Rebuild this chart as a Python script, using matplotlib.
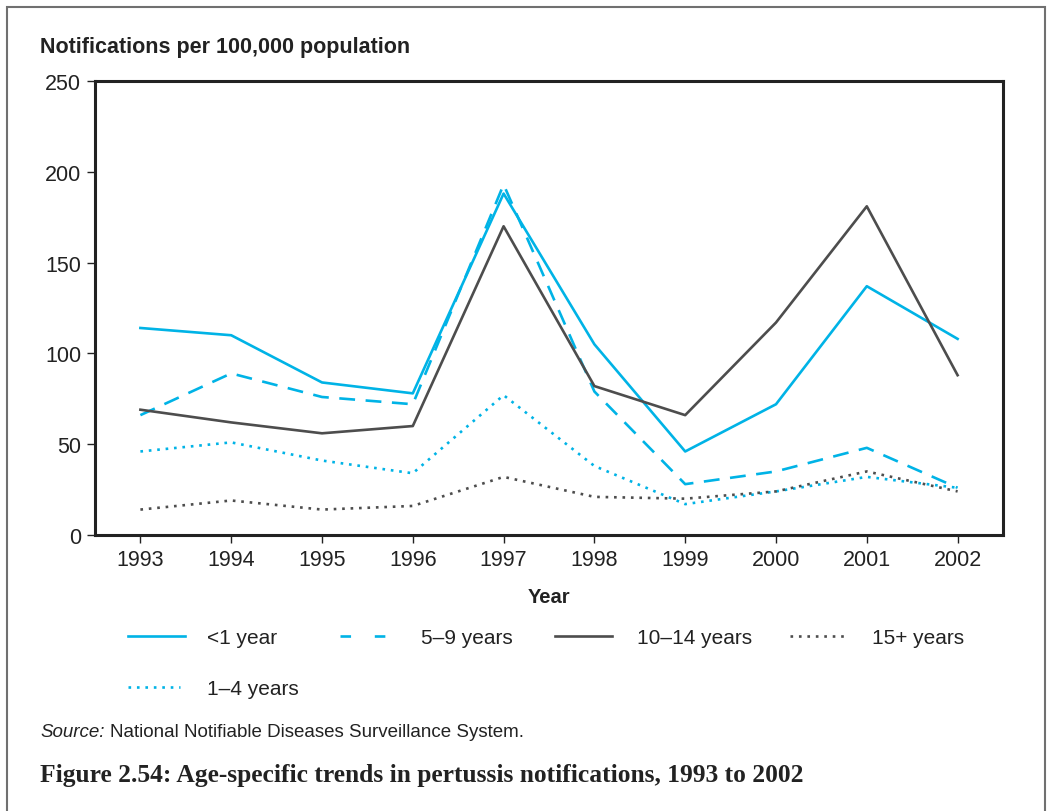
import matplotlib
matplotlib.use('Agg')
import matplotlib.pyplot as plt
from matplotlib.patches import Rectangle
from matplotlib.lines import Line2D

years = [1993, 1994, 1995, 1996, 1997, 1998, 1999, 2000, 2001, 2002]
under_1 = [114, 110, 84, 78, 188, 105, 46, 72, 137, 108]
age_1_4 = [46, 51, 41, 34, 77, 38, 17, 24, 32, 26]
age_5_9 = [66, 89, 76, 72, 193, 79, 28, 35, 48, 26]
age_10_14 = [69, 62, 56, 60, 170, 82, 66, 117, 181, 88]
age_15_plus = [14, 19, 14, 16, 32, 21, 20, 24, 35, 24]

cyan = '#00b3e6'
grey = '#4d4d4d'
ink = '#222222'
dot = (0, (1, 2.2))
dash = (0, (6, 4))
plt.rcParams['font.family'] = ['Liberation Sans', 'DejaVu Sans']

fig = plt.figure(figsize=(10.47, 8.12), dpi=100)
W, H = 1047, 812
ax = fig.add_axes([95 / W, 1 - 536 / H, (1003 - 95) / W, (536 - 82) / H])

series = [
    ('<1 year', under_1, cyan, '-'),
    ('1\u20134 years', age_1_4, cyan, dot),
    ('5\u20139 years', age_5_9, cyan, dash),
    ('10\u201314 years', age_10_14, grey, '-'),
    ('15+ years', age_15_plus, grey, dot),
]
for name, vals, col, ls in series:
    ax.plot(years, vals, color=col, lw=1.9, ls=ls, label=name)

ax.set_xlim(1992.5, 2002.5)
ax.set_ylim(0, 250)
ax.set_xticks(years)
ax.set_yticks([0, 50, 100, 150, 200, 250])
ax.tick_params(labelsize=15.5, length=6, width=1, color=ink, labelcolor=ink, pad=4)
for s in ax.spines.values():
    s.set_linewidth(2.2)
    s.set_color(ink)

ax.set_xlabel('Year', fontsize=14.5, fontweight='bold', color=ink, labelpad=12)
fig.text(40 / W, 1 - 48 / H, 'Notifications per 100,000 population', fontsize=15.5,
         fontweight='bold', color=ink, va='center', ha='left')

# legend drawn by hand: (row y, handle x0, x1, text x)
legend_pos = {
    '<1 year': (637, 128, 185, 207),
    '5\u20139 years': (637, 340, 390, 421),
    '10\u201314 years': (637, 555, 612, 637),
    '15+ years': (637, 790, 845, 872),
    '1\u20134 years': (688, 128, 180, 207),
}
for name, vals, col, ls in series:
    y, x0, x1, xt = legend_pos[name]
    if ls == dash:
        ls = (0, (4, 9))
    fig.add_artist(Line2D([x0 / W, x1 / W], [1 - y / H, 1 - y / H], color=col, lw=1.9, ls=ls,
                          transform=fig.transFigure))
    fig.text(xt / W, 1 - (y + 2) / H, name, fontsize=15, color=ink, va='center', ha='left')

src = fig.text(40 / W, 1 - 733 / H, 'Source:', fontsize=13.5, style='italic', color=ink, va='center')
fig.canvas.draw()
bb = src.get_window_extent()
fig.text(bb.x1 / W + 5 / W, 1 - 733 / H, 'National Notifiable Diseases Surveillance System.',
         fontsize=13.5, color=ink, va='center')
fig.text(40 / W, 1 - 776 / H, 'Figure 2.54: Age-specific trends in pertussis notifications, 1993 to 2002',
         fontsize=18.4, fontweight='bold', family='Liberation Serif', color=ink, va='center')

fig.patches.append(Rectangle((7 / W, -0.05), (1045 - 7) / W, 1.05 - 8 / H, transform=fig.transFigure,
                             fill=False, edgecolor='#707070', lw=1.5, clip_on=False))

fig.savefig('out.png', dpi=100)
